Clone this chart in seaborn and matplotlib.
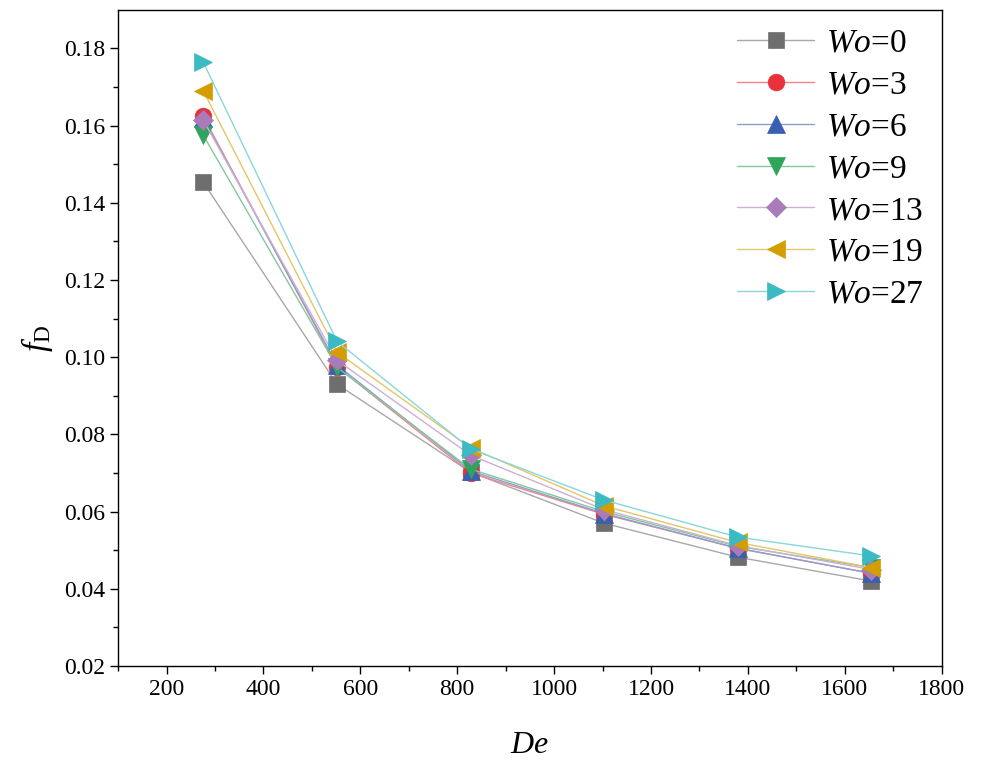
import matplotlib
matplotlib.use("Agg")
import matplotlib.pyplot as plt
import matplotlib.colors as mcolors
import seaborn as sns
import pandas as pd
import numpy as np

De = [276, 552, 828, 1103, 1379, 1655]
wo_labels = ["0", "3", "6", "9", "13", "19", "27"]
f_wo0 = [0.1453, 0.0930, 0.0702, 0.0570, 0.0482, 0.0420]
f_wo3 = [0.1624, 0.0975, 0.0700, 0.0593, 0.0505, 0.0440]
f_wo6 = [0.1619, 0.0980, 0.0705, 0.0595, 0.0505, 0.0440]
f_wo9 = [0.1575, 0.0974, 0.0710, 0.0600, 0.0510, 0.0455]
f_wo13 = [0.1614, 0.0992, 0.0746, 0.0605, 0.0512, 0.0450]
f_wo19 = [0.1690, 0.1013, 0.0765, 0.0615, 0.0520, 0.0455]
f_wo27 = [0.1764, 0.1041, 0.0762, 0.0630, 0.0534, 0.0485]
series = [f_wo0, f_wo3, f_wo6, f_wo9, f_wo13, f_wo19, f_wo27]

colors = ["#6e6e6e", "#e8313a", "#3a5fb0", "#2fa45c", "#a97bb8", "#d49e00", "#3bbac4"]
markers = ["s", "o", "^", "v", "D", "<", ">"]
msizes = [11, 12, 13, 13, 10, 13, 13]

rows = []
for lab, vals in zip(wo_labels, series):
    for x, y in zip(De, vals):
        rows.append({"De": x, "fD": y, "Wo": lab})
df = pd.DataFrame(rows)

sns.set_theme(style="ticks")
plt.rcParams["font.family"] = ["Liberation Serif", "DejaVu Serif"]
plt.rcParams["mathtext.fontset"] = "custom"
plt.rcParams["mathtext.rm"] = "Liberation Serif"
plt.rcParams["mathtext.it"] = "Liberation Serif:italic"
plt.rcParams["text.color"] = "black"
plt.rcParams["axes.labelcolor"] = "black"

fig = plt.figure(figsize=(9.84, 7.62), dpi=100)
ax = fig.add_axes([0.12, 0.126, 0.837, 0.861])

def lighten(c, amt=0.4):
    r = np.array(mcolors.to_rgb(c))
    return tuple(r + (1 - r) * amt)

for lab, col, mk, ms in zip(wo_labels, colors, markers, msizes):
    sub = df[df["Wo"] == lab]
    sns.lineplot(data=sub, x="De", y="fD", ax=ax, color=lighten(col), linewidth=1.0,
                 marker=mk, markersize=ms, markerfacecolor=col, markeredgecolor=col,
                 markeredgewidth=0.5, label=f"$\\mathit{{Wo}}$={lab}", legend=False)

ax.set_xlim(100, 1800)
ax.set_ylim(0.02, 0.19)
ax.set_xticks(np.arange(200, 1801, 200))
ax.set_yticks(np.arange(0.02, 0.181, 0.02))
ax.set_yticklabels([f"{v:.2f}" for v in np.arange(0.02, 0.181, 0.02)])
ax.set_xticks(np.arange(100, 1800, 200), minor=True)
ax.set_yticks(np.arange(0.03, 0.19, 0.02), minor=True)
ax.tick_params(axis="both", which="major", direction="out", length=6, width=1,
               labelsize=17, colors="black", top=False, right=False)
ax.tick_params(axis="both", which="minor", direction="out", length=3.5, width=1,
               colors="black", top=False, right=False)
for s in ax.spines.values():
    s.set_linewidth(1.0)
    s.set_color("black")

ax.set_xlabel("$\\mathit{De}$", fontsize=23, labelpad=22)
ax.set_ylabel("$\\mathit{f}_{\\mathrm{D}}$", fontsize=24, labelpad=6)

leg = ax.legend(loc="upper right", frameon=False, fontsize=24, handlelength=2.3,
                labelspacing=0.34, handletextpad=0.35, borderaxespad=0.15)

fig.savefig("out.png", dpi=100)
